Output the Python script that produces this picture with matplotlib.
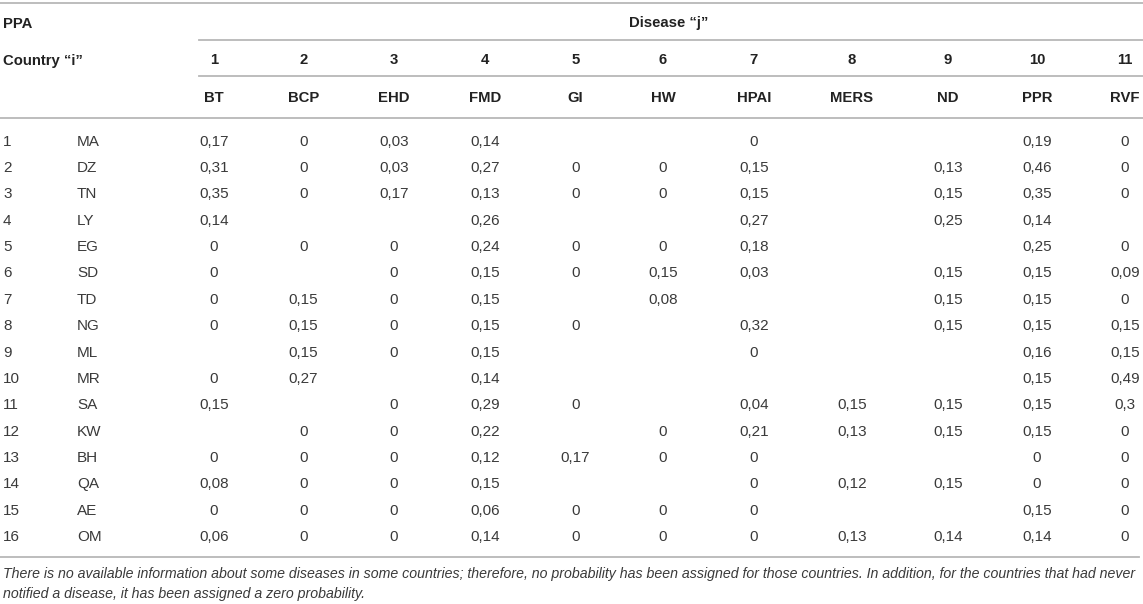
import matplotlib.pyplot as plt

# table content
disease_nums = ["1", "2", "3", "4", "5", "6", "7", "8", "9", "10", "11"]
disease_codes = ["BT", "BCP", "EHD", "FMD", "GI", "HW", "HPAI", "MERS", "ND", "PPR", "RVF"]
countries = ["MA", "DZ", "TN", "LY", "EG", "SD", "TD", "NG", "ML", "MR",
             "SA", "KW", "BH", "QA", "AE", "OM"]
N = None
probs = [
    [0.17, 0, 0.03, 0.14, N, N, 0, N, N, 0.19, 0],
    [0.31, 0, 0.03, 0.27, 0, 0, 0.15, N, 0.13, 0.46, 0],
    [0.35, 0, 0.17, 0.13, 0, 0, 0.15, N, 0.15, 0.35, 0],
    [0.14, N, N, 0.26, N, N, 0.27, N, 0.25, 0.14, N],
    [0, 0, 0, 0.24, 0, 0, 0.18, N, N, 0.25, 0],
    [0, N, 0, 0.15, 0, 0.15, 0.03, N, 0.15, 0.15, 0.09],
    [0, 0.15, 0, 0.15, N, 0.08, N, N, 0.15, 0.15, 0],
    [0, 0.15, 0, 0.15, 0, N, 0.32, N, 0.15, 0.15, 0.15],
    [N, 0.15, 0, 0.15, N, N, 0, N, N, 0.16, 0.15],
    [0, 0.27, N, 0.14, N, N, N, N, N, 0.15, 0.49],
    [0.15, N, 0, 0.29, 0, N, 0.04, 0.15, 0.15, 0.15, 0.3],
    [N, 0, 0, 0.22, N, 0, 0.21, 0.13, 0.15, 0.15, 0],
    [0, 0, 0, 0.12, 0.17, 0, 0, N, N, 0, 0],
    [0.08, 0, 0, 0.15, N, N, 0, 0.12, 0.15, 0, 0],
    [0, 0, 0, 0.06, 0, 0, 0, N, N, 0.15, 0],
    [0.06, 0, 0, 0.14, 0, 0, 0, 0.13, 0.14, 0.14, 0],
]
footnote = ("There is no available information about some diseases in some countries; "
            "therefore, no probability has been assigned for those countries. In addition, "
            "for the countries that had never\nnotified a disease, it has been assigned a zero probability.")

W, H = 1143, 604
col_x = [214, 303.5, 394, 485, 575.5, 663, 754, 852, 948, 1037, 1125]
row_y0, row_dy = 140, 26.38

plt.rcParams['font.family'] = ['Liberation Sans', 'DejaVu Sans']
fig = plt.figure(figsize=(W / 100, H / 100), dpi=100)
ax = fig.add_axes([0, 0, 1, 1])
ax.set_xlim(0, W)
ax.set_ylim(H, 0)
ax.axis('off')

line_kw = dict(color='#b8b8b8', linewidth=1.3)
ax.plot([0, W], [3, 3], **line_kw)
ax.plot([199, W], [39.5, 39.5], **line_kw)
ax.plot([199, W], [76, 76], **line_kw)
ax.plot([0, W], [118, 118], **line_kw)
ax.plot([0, 1139], [556.5, 556.5], **line_kw)

head = dict(fontsize=10.7, fontweight='bold', color='#222222', va='center_baseline')
ax.text(3, 22, "PPA", ha='left', **head)
ax.text(669, 22, "Disease \u201cj\u201d", ha='center', **head)
ax.text(3, 59, "Country \u201ci\u201d", ha='left', **head)
for x, num, code in zip(col_x, disease_nums, disease_codes):
    ax.text(x, 59, num, ha='center', **head)
    ax.text(x, 96, code, ha='center', **head)

body = dict(fontsize=11, color='#3a3a3a', va='center_baseline')
for i, (country, row) in enumerate(zip(countries, probs)):
    y = row_y0 + i * row_dy
    ax.text(3, y, str(i + 1), ha='left', **body)
    ax.text(77, y, country, ha='left', **body)
    for x, v in zip(col_x, row):
        if v is None:
            continue
        ax.text(x, y, f"{v:g}".replace('.', ','), ha='center', **body)

ax.text(3, 584, footnote, ha='left', va='center', fontsize=10.2, style='italic',
        color='#3a3a3a', linespacing=1.6)

fig.savefig('out.png', dpi=100)
